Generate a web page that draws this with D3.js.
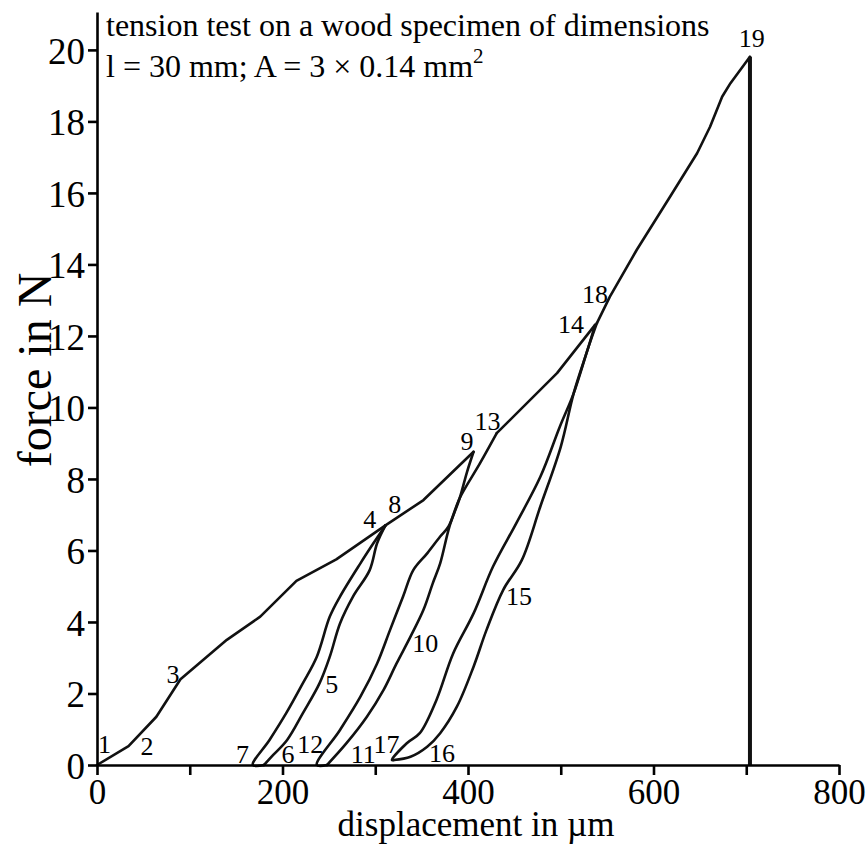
<!DOCTYPE html>
<html>
<head>
<meta charset="utf-8">
<script src="https://cdn.jsdelivr.net/npm/d3@7/dist/d3.min.js"></script>
<style>
  body { margin: 0; background: #fff; }
  svg, .axis text { font-family: "Liberation Serif", "Times New Roman", serif; }
  .axis path, .axis line { stroke: #000; stroke-width: 2.6px; }
  .axis text { fill: #000; }
</style>
</head>
<body>
<svg id="chart"></svg>
<script>
const WIDTH = 868;
const HEIGHT = 844;

// displacement in µm / force in N, one array pair per branch
const load1Disp = [0, 34, 64, 90, 140, 176, 215, 258, 311];
const load1Force = [0, 0.53, 1.35, 2.4, 3.5, 4.15, 5.15, 5.75, 6.7];

const unload1Disp = [311, 302, 294, 276, 262, 251, 240, 222, 205, 190, 180];
const unload1Force = [6.7, 6.2, 5.45, 4.71, 3.96, 3.03, 2.29, 1.45, 0.7, 0.28, 0];

const reload1Disp = [180, 168, 186, 204, 222, 237, 251, 262, 284, 298, 311];
const reload1Force = [0, 0, 0.7, 1.45, 2.29, 3.03, 4.15, 4.71, 5.64, 6.2, 6.7];

const load2Disp = [311, 352, 406];
const load2Force = [6.7, 7.41, 8.76];

const unload2Disp = [406, 399, 391, 380, 370, 362, 352, 338, 323, 309, 291, 269, 248];
const unload2Force = [8.76, 8.2, 7.46, 6.67, 5.64, 5.08, 4.34, 3.59, 2.84, 2.1, 1.35, 0.61, 0];

const reload2Disp = [248, 237, 262, 284, 302, 316, 330, 341, 356, 370, 379, 391, 413, 431];
const reload2Force = [0, 0, 0.98, 1.91, 2.84, 3.78, 4.71, 5.45, 5.92, 6.39, 6.67, 7.46, 8.44, 9.28];

const load3Disp = [431, 496, 537];
const load3Force = [9.28, 10.96, 12.31];

const unload3Disp = [537, 530, 514, 500, 478, 458, 438, 420, 406, 388, 370, 356, 338, 320];
const unload3Force = [12.31, 11.7, 10.4, 8.9, 7.23, 5.73, 4.9, 3.78, 2.75, 1.63, 0.89, 0.51, 0.23, 0.14];

const reload3Disp = [320, 318, 334, 348, 366, 384, 406, 427, 452, 478, 499, 514, 530, 539];
const reload3Force = [0.14, 0.14, 0.61, 0.89, 1.82, 3.12, 4.24, 5.55, 6.76, 8.06, 9.46, 10.4, 11.7, 12.36];

const load4Disp = [539, 553, 582, 618, 647, 661, 674, 683, 704];
const load4Force = [12.36, 13.1, 14.41, 15.9, 17.11, 17.85, 18.69, 19.07, 19.81];

const breakDisp = [704, 704];
const breakForce = [19.81, 0];

// numbered points along the path (label baseline positions)
const markNames = ['1', '2', '3', '4', '5', '6', '7', '8', '9', '10', '11', '12', '13', '14', '15', '16', '17', '18', '19'];
const markDisp = [8, 54, 82, 294, 253, 206, 157, 321, 399, 354, 287, 230, 421, 511, 455, 372, 312, 537, 706];
const markForce = [0.34, 0.28, 2.29, 6.63, 2.01, 0.06, 0.06, 7.05, 8.81, 3.16, 0.06, 0.34, 9.37, 12.08, 4.48, 0.08, 0.34, 12.92, 20.08];

const xTicks = d3.range(0, 801, 100);
const yTicks = d3.range(0, 21, 2);

const xScale = d3.scaleLinear().domain([0, 800]).range([97, 839]);
const yScale = d3.scaleLinear().domain([0, 21.06]).range([765, 12]);

const svg = d3.select('#chart').attr('width', WIDTH).attr('height', HEIGHT);

function pairs(xs, ys) {
  return xs.map((x, i) => [x, ys[i]]);
}

const straight = d3.line()
  .x(d => xScale(d[0]))
  .y(d => yScale(d[1]));

const smooth = d3.line()
  .x(d => xScale(d[0]))
  .y(d => yScale(d[1]))
  .curve(d3.curveCatmullRom.alpha(0.5));

const branches = [
  {pts: pairs(load1Disp, load1Force), line: straight},
  {pts: pairs(unload1Disp, unload1Force), line: smooth},
  {pts: pairs(reload1Disp, reload1Force), line: smooth},
  {pts: pairs(load2Disp, load2Force), line: straight},
  {pts: pairs(unload2Disp, unload2Force), line: smooth},
  {pts: pairs(reload2Disp, reload2Force), line: smooth},
  {pts: pairs(load3Disp, load3Force), line: straight},
  {pts: pairs(unload3Disp, unload3Force), line: smooth},
  {pts: pairs(reload3Disp, reload3Force), line: smooth},
  {pts: pairs(load4Disp, load4Force), line: straight}
];

svg.append('g')
  .selectAll('path')
  .data(branches)
  .join('path')
  .attr('d', d => d.line(d.pts))
  .attr('fill', 'none')
  .attr('stroke', '#111')
  .attr('stroke-width', 2.6)
  .attr('stroke-linejoin', 'round')
  .attr('stroke-linecap', 'round');

svg.append('path')
  .attr('d', straight(pairs(breakDisp, breakForce)))
  .attr('fill', 'none')
  .attr('stroke', '#111')
  .attr('stroke-width', 4);

// axes
const xAxis = d3.axisBottom(xScale)
  .tickValues(xTicks)
  .tickSize(10)
  .tickSizeOuter(0)
  .tickPadding(4)
  .tickFormat(d => (d % 200 === 0 ? d : ''));

svg.append('g')
  .attr('class', 'axis')
  .attr('transform', `translate(0, ${yScale(0)})`)
  .call(xAxis)
  .call(g => g.selectAll('text').attr('font-size', 35));

const yAxis = d3.axisLeft(yScale)
  .tickValues(yTicks)
  .tickSize(9)
  .tickSizeOuter(0)
  .tickPadding(3);

svg.append('g')
  .attr('class', 'axis')
  .attr('transform', `translate(${xScale(0)}, 0)`)
  .call(yAxis)
  .call(g => g.selectAll('text')
    .attr('font-size', 37)
    .attr('dy', '0.36em'));

// axis titles
svg.append('text')
  .attr('x', 476)
  .attr('y', 836)
  .attr('text-anchor', 'middle')
  .attr('font-size', 35)
  .text('displacement in µm');

svg.append('text')
  .attr('transform', 'translate(51, 370) rotate(-90)')
  .attr('text-anchor', 'middle')
  .attr('font-size', 48)
  .text('force in N');

// specimen note
const note = svg.append('text').attr('font-size', 32);
note.append('tspan').attr('x', 106).attr('y', 36)
  .text('tension test on a wood specimen of dimensions');
note.append('tspan').attr('x', 106).attr('y', 77)
  .text('l = 30 mm; A = 3 × 0.14 mm');
note.append('tspan').attr('font-size', 21).attr('dy', -14).text('2');

// point numbers
svg.append('g')
  .selectAll('text')
  .data(markNames)
  .join('text')
  .attr('x', (d, i) => xScale(markDisp[i]))
  .attr('y', (d, i) => yScale(markForce[i]))
  .attr('text-anchor', 'middle')
  .attr('font-size', 26)
  .text(d => d);
</script>
</body>
</html>
